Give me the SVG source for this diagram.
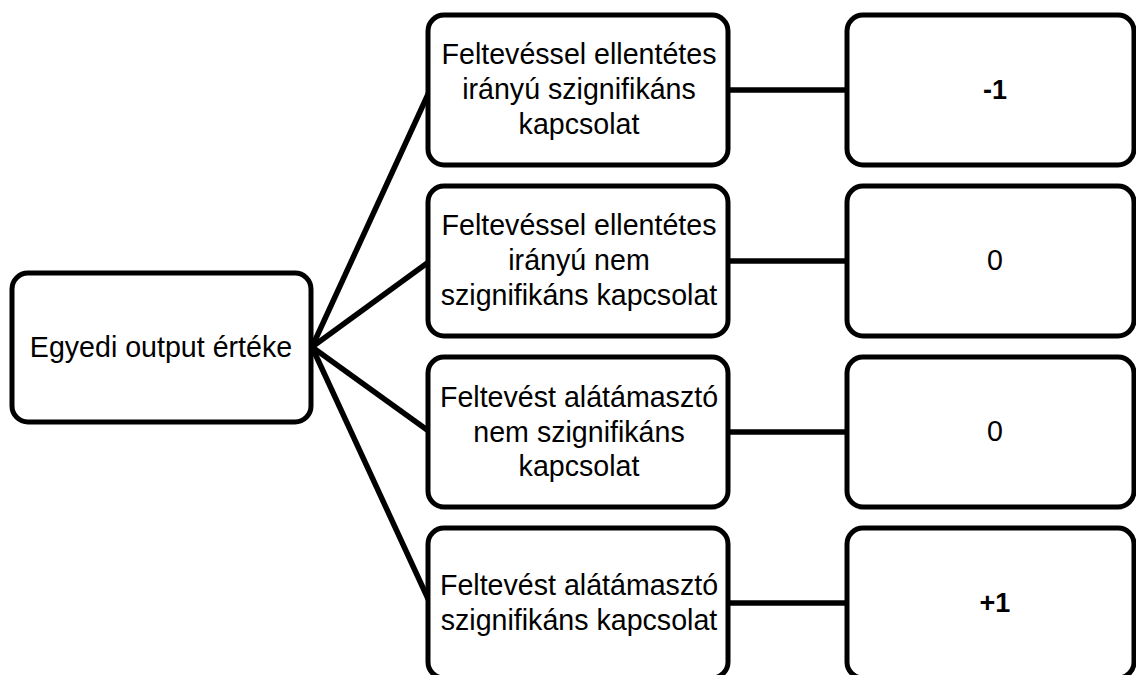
<svg xmlns="http://www.w3.org/2000/svg" width="1136" height="675" viewBox="0 0 1136 675">
<style>
.box{fill:#fff;stroke:#000;stroke-width:5}
.t{font-family:"Liberation Sans",Arial,sans-serif;font-size:28.6px;fill:#000;text-anchor:middle}
.b{font-weight:bold;font-size:27px}
.c{stroke:#000;stroke-width:5.5;fill:none}
</style>
<rect width="1136" height="675" fill="#fff"/>
<g id="connectors">
<line class="c" x1="312" y1="347" x2="430" y2="90"/>
<line class="c" x1="312" y1="347" x2="430" y2="261"/>
<line class="c" x1="312" y1="347" x2="430" y2="432"/>
<line class="c" x1="312" y1="347" x2="430" y2="603"/>
<line class="c" x1="728" y1="90" x2="847" y2="90"/>
<line class="c" x1="728" y1="261" x2="847" y2="261"/>
<line class="c" x1="728" y1="432" x2="847" y2="432"/>
<line class="c" x1="728" y1="603" x2="847" y2="603"/>
</g>
<g id="root">
<rect class="box" x="12" y="273" width="299" height="149" rx="16"/>
<text class="t" x="161" y="357">Egyedi output értéke</text>
</g>
<g id="m1">
<rect class="box" x="428" y="15" width="300" height="150" rx="16"/>
<text class="t" x="579" y="64">Feltevéssel ellentétes</text>
<text class="t" x="579" y="99">irányú szignifikáns</text>
<text class="t" x="579" y="134">kapcsolat</text>
</g>
<g id="m2">
<rect class="box" x="428" y="186" width="300" height="150" rx="16"/>
<text class="t" x="579" y="235">Feltevéssel ellentétes</text>
<text class="t" x="579" y="270">irányú nem</text>
<text class="t" x="579" y="305">szignifikáns kapcsolat</text>
</g>
<g id="m3">
<rect class="box" x="428" y="357" width="300" height="150" rx="16"/>
<text class="t" x="579" y="407">Feltevést alátámasztó</text>
<text class="t" x="579" y="442">nem szignifikáns</text>
<text class="t" x="579" y="476">kapcsolat</text>
</g>
<g id="m4">
<rect class="box" x="428" y="528" width="300" height="150" rx="16"/>
<text class="t" x="579" y="595">Feltevést alátámasztó</text>
<text class="t" x="579" y="630">szignifikáns kapcsolat</text>
</g>
<g id="r1">
<rect class="box" x="847" y="15" width="287" height="150" rx="16"/>
<text class="t b" x="995" y="99">-1</text>
</g>
<g id="r2">
<rect class="box" x="847" y="186" width="287" height="150" rx="16"/>
<text class="t" x="995" y="270">0</text>
</g>
<g id="r3">
<rect class="box" x="847" y="357" width="287" height="150" rx="16"/>
<text class="t" x="995" y="441">0</text>
</g>
<g id="r4">
<rect class="box" x="847" y="528" width="287" height="150" rx="16"/>
<text class="t b" x="995" y="612">+1</text>
</g>
</svg>
